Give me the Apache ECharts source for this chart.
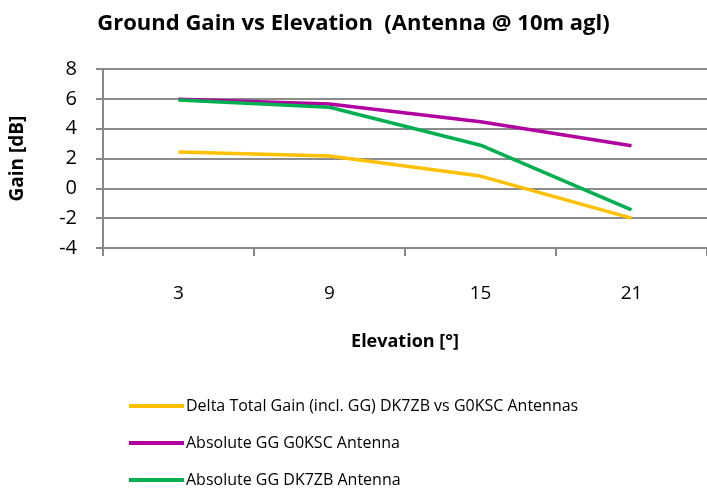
<!DOCTYPE html>
<html><head><meta charset="utf-8">
<script src="https://cdn.jsdelivr.net/npm/echarts@6/dist/echarts.min.js"></script>
<style>html,body{margin:0;padding:0;background:#fff}#c{width:707px;height:496px}</style>
</head><body><div id="c"></div>
<script>
const categories = ['3', '9', '15', '21'];
const deltaTotalGain = [2.44, 2.17, 0.82, -2.0];
const absG0KSC = [5.97, 5.66, 4.47, 2.85];
const absDK7ZB = [5.93, 5.44, 2.89, -1.45];
const seriesNames = ['Delta Total Gain (incl. GG) DK7ZB vs G0KSC Antennas', 'Absolute GG G0KSC Antenna', 'Absolute GG DK7ZB Antenna'];
const colors = ['#FFC000', '#B0009F', '#00B050'];
const FONT = '"Open Sans", "Noto Sans", sans-serif';
const chart = echarts.init(document.getElementById('c'));
const mk = (name, data, color) => ({
  name, type: 'line', data, symbol: 'none', smooth: false,
  lineStyle: { color, width: 3.5 }, itemStyle: { color }
});
chart.setOption({
  animation: false,
  backgroundColor: '#fff',
  title: {
    text: 'Ground Gain vs Elevation  (Antenna @ 10m agl)',
    left: 'center', top: 8,
    textStyle: { fontFamily: FONT, fontSize: 22, fontWeight: 'bold', color: '#000' }
  },
  grid: { left: 96, top: 69, width: 613, height: 179, containLabel: false },
  legend: {
    orient: 'vertical', left: 129, top: 398, itemGap: 21, padding: 0,
    itemWidth: 55, itemHeight: 4, icon: 'rect',
    textStyle: { fontFamily: FONT, fontSize: 16, lineHeight: 16, color: '#000', padding: [0, 0, 0, -3] },
    data: seriesNames
  },
  xAxis: {
    type: 'category', data: categories, boundaryGap: true,
    name: 'Elevation [°]', nameLocation: 'middle', nameGap: 85,
    nameTextStyle: { fontFamily: FONT, fontSize: 18, fontWeight: 'bold', color: '#000' },
    axisLine: { show: true, onZero: false, lineStyle: { color: '#888', width: 2 } },
    axisTick: { show: true, alignWithLabel: false, length: 8, lineStyle: { color: '#888', width: 2 } },
    axisLabel: { fontFamily: FONT, fontSize: 19, color: '#000', margin: 36 },
    splitLine: { show: false }
  },
  yAxis: {
    type: 'value', min: -4, max: 8, interval: 2,
    name: 'Gain [dB]', nameLocation: 'middle', nameGap: 76, nameRotate: 90,
    nameTextStyle: { fontFamily: FONT, fontSize: 19, fontWeight: 'bold', color: '#000' },
    axisLine: { show: true, lineStyle: { color: '#888', width: 2 } },
    axisTick: { show: true, length: 7, lineStyle: { color: '#888', width: 2 } },
    axisLabel: { fontFamily: FONT, fontSize: 20, color: '#000', margin: 26 },
    splitLine: { show: true, lineStyle: { color: '#8c8c8c', width: 2 } }
  },
  series: [
    mk(seriesNames[0], deltaTotalGain, colors[0]),
    mk(seriesNames[1], absG0KSC, colors[1]),
    mk(seriesNames[2], absDK7ZB, colors[2])
  ]
});
</script></body></html>
